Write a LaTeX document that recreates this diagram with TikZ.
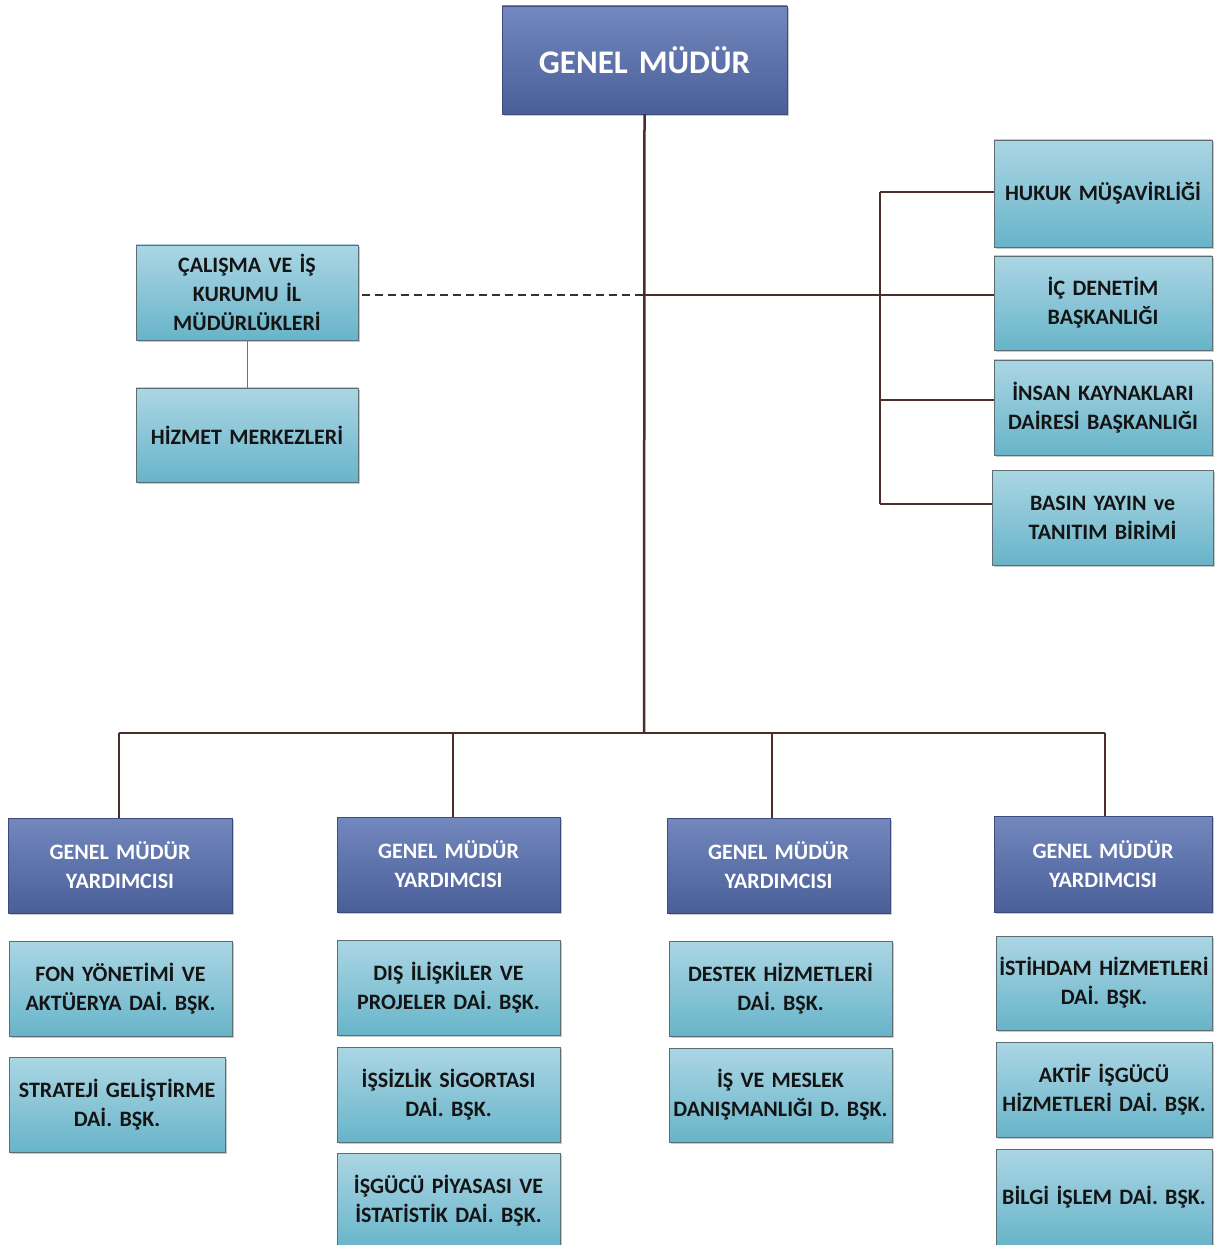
\documentclass[tikz,border=0pt]{standalone}
\usepackage{fontspec}
\setmainfont{Carlito}
\usetikzlibrary{shadows}
\definecolor{dblueT}{HTML}{7388BE}
\definecolor{dblueB}{HTML}{4A5E98}
\definecolor{dblueE}{HTML}{3C4A7C}
\definecolor{lblueT}{HTML}{ABD6E4}
\definecolor{lblueB}{HTML}{68B4C9}
\definecolor{lblueE}{HTML}{5C6E74}
\definecolor{lineC}{HTML}{4E2C2A}
\tikzset{
  base/.style={rectangle, align=center, inner xsep=0pt, inner ysep=0pt,
    font=\bfseries\fontsize{11}{14.5}\selectfont,
    drop shadow={shadow xshift=1.2pt, shadow yshift=-1.2pt, opacity=0.3, fill=black!70}},
  dark/.style={base, top color=dblueT, bottom color=dblueB, draw=dblueE, text=white},
  light/.style={base, top color=lblueT, bottom color=lblueB, draw=lblueE, text=black!92},
  sz/.style 2 args={minimum width=#1, text width=#1, minimum height=#2},
  conn/.style={draw=lineC, line width=1.25pt},
  thinline/.style={draw=black!55, line width=0.5pt},
  dashline/.style={draw=black!80, line width=0.9pt, dash pattern=on 4pt off 2.5pt}
}
\begin{document}
\begin{tikzpicture}[x=0.5pt,y=-0.5pt]
\useasboundingbox (0,0) rectangle (1223,1245);
% top
\node[dark, sz={142.5pt}{54pt}, font=\bfseries\fontsize{16.5}{19}\selectfont] (gm) at (644.5,60) {GENEL MÜDÜR};
% left
\node[light, sz={111pt}{47.5pt}] (calisma) at (247,292.5) {ÇALIŞMA VE İŞ\\KURUMU İL\\MÜDÜRLÜKLERİ};
\node[light, sz={111pt}{47pt}] (hizmet) at (247,435) {HİZMET MERKEZLERİ};
% right
\node[light, sz={109pt}{53.5pt}] (hukuk) at (1103,193.5) {HUKUK MÜŞAVİRLİĞİ};
\node[light, sz={109pt}{47pt}] (icd) at (1103,303) {İÇ DENETİM\\BAŞKANLIĞI};
\node[light, sz={109pt}{47.5pt}] (insan) at (1103,407.5) {İNSAN KAYNAKLARI\\DAİRESİ BAŞKANLIĞI};
\node[light, sz={110.5pt}{47.5pt}] (basin) at (1102.5,517.5) {BASIN YAYIN ve\\TANITIM BİRİMİ};
% deputies
\node[dark, sz={112pt}{47.5pt}] (gmy1) at (120,865.5) {GENEL MÜDÜR\\YARDIMCISI};
\node[dark, sz={111.5pt}{47.5pt}] (gmy2) at (448.5,864.5) {GENEL MÜDÜR\\YARDIMCISI};
\node[dark, sz={111.5pt}{47.5pt}] (gmy3) at (778.5,865.5) {GENEL MÜDÜR\\YARDIMCISI};
\node[dark, sz={109pt}{48pt}] (gmy4) at (1103,864) {GENEL MÜDÜR\\YARDIMCISI};
% column 1
\node[light, sz={111.5pt}{47.5pt}] (fon) at (120.5,988.5) {FON YÖNETİMİ VE\\AKTÜERYA DAİ. BŞK.};
\node[light, sz={108pt}{47.5pt}] (strateji) at (117,1104.5) {STRATEJİ GELİŞTİRME\\DAİ. BŞK.};
% column 2
\node[light, sz={111.5pt}{47.5pt}] (dis) at (448.5,987.5) {DIŞ İLİŞKİLER VE\\PROJELER DAİ. BŞK.};
\node[light, sz={111.5pt}{47.5pt}] (issizlik) at (448.5,1094.5) {İŞSİZLİK SİGORTASI\\DAİ. BŞK.};
\node[light, sz={111.5pt}{48pt}] (isgucu) at (448.5,1201) {İŞGÜCÜ PİYASASI VE\\İSTATİSTİK DAİ. BŞK.};
% column 3
\node[light, sz={111.5pt}{47.5pt}] (destek) at (780.5,988.5) {DESTEK HİZMETLERİ\\DAİ. BŞK.};
\node[light, sz={111.5pt}{47pt}] (meslek) at (780.5,1095) {İŞ VE MESLEK\\DANIŞMANLIĞI D. BŞK.};
% column 4
\node[light, sz={108pt}{47pt}] (istihdam) at (1104,983) {İSTİHDAM HİZMETLERİ\\DAİ. BŞK.};
\node[light, sz={108pt}{47.5pt}] (aktif) at (1104,1089.5) {AKTİF İŞGÜCÜ\\HİZMETLERİ DAİ. BŞK.};
\node[light, sz={108pt}{48pt}] (bilgi) at (1104,1197) {BİLGİ İŞLEM DAİ. BŞK.};
% coordinates
\coordinate (hub) at (644,295);
\coordinate (bus) at (644,733);
\coordinate (b1) at (119,733);
\coordinate (b2) at (453,733);
\coordinate (b3) at (772,733);
\coordinate (b4) at (1105,733);
\coordinate (rh) at (880,192);
\coordinate (ri) at (880,400);
\coordinate (rb) at (880,504);
\coordinate (dstart) at (362,295);
% connectors
\draw[conn] (gm.south) -- (bus);
\draw[conn] (b1) -- (b4);
\draw[conn] (b1) -- (b1 |- gmy1.north);
\draw[conn] (b2) -- (b2 |- gmy2.north);
\draw[conn] (b3) -- (b3 |- gmy3.north);
\draw[conn] (b4) -- (b4 |- gmy4.north);
\draw[conn] (hub) -- (hub -| icd.west);
\draw[conn] (rh) -- (rb);
\draw[conn] (rh) -- (rh -| hukuk.west);
\draw[conn] (ri) -- (ri -| insan.west);
\draw[conn] (rb) -- (rb -| basin.west);
\draw[dashline] (dstart) -- (hub);
\draw[thinline] (calisma.south) -- (hizmet.north);
\end{tikzpicture}
\end{document}
